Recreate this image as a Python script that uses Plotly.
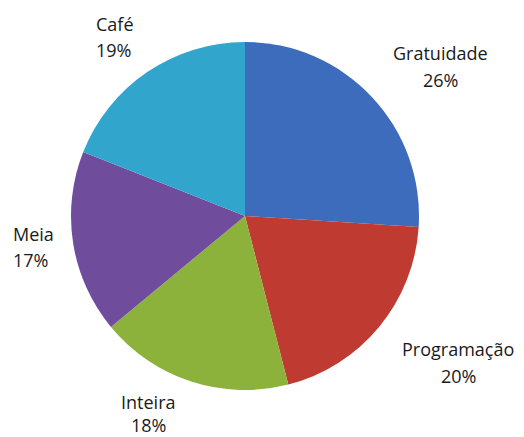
import plotly.graph_objects as go

categories = ["Gratuidade", "Programação", "Inteira", "Meia", "Café"]
values = [26, 20, 18, 17, 19]
colors = ["#3d6cbc", "#bf3a30", "#8cb23c", "#6f4d9c", "#31a5cc"]

W, H = 524, 437
cx, cy, r = 245, 216, 174

fig = go.Figure(go.Pie(
    labels=categories, values=values, sort=False, direction="clockwise",
    rotation=0, textinfo="none", hoverinfo="label+percent",
    marker=dict(colors=colors, line=dict(width=0)),
    domain=dict(x=[(cx - r) / W, (cx + r) / W], y=[(H - cy - r) / H, (H - cy + r) / H]),
    showlegend=False,
))

# label placement: x anchor, y of first line, y of second line (pixels), alignment
label_pos = [(440, 53, 80, "center"), (458, 349, 376, "center"), (148, 402, 425, "center"),
             (11, 234, 260, "left"), (94, 24, 50, "left")]
font = dict(family="Open Sans, Lato, sans-serif", size=18, color="#1a1a1a")
for cat, v, (x, y1, y2, al) in zip(categories, values, label_pos):
    for txt, y in ((cat, y1), (f"{v}%", y2)):
        fig.add_annotation(
            x=x / W, y=1 - y / H, xref="paper", yref="paper",
            text=txt, showarrow=False, align=al,
            xanchor="left" if al == "left" else "center", yanchor="middle",
            font=font,
        )

fig.update_layout(
    width=W, height=H, margin=dict(l=0, r=0, t=0, b=0),
    paper_bgcolor="white", plot_bgcolor="white",
)
fig.write_html("out.html", config={"displayModeBar": False},
               post_script="document.body.style.margin='0';document.body.style.overflow='hidden';")
